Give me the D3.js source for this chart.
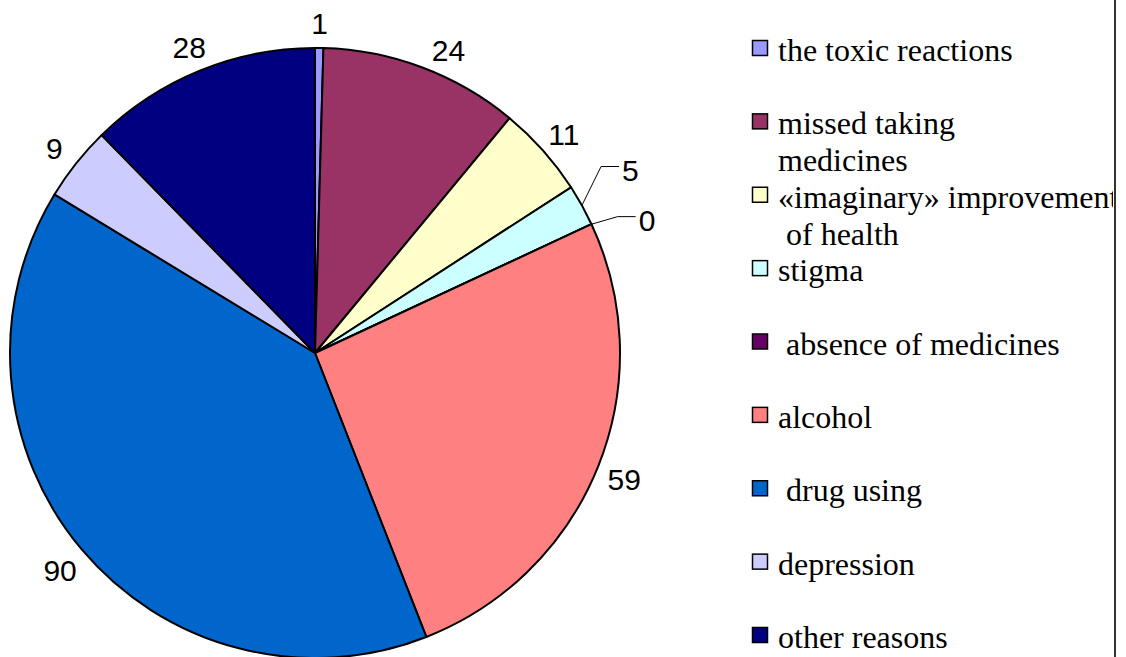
<!DOCTYPE html>
<html>
<head>
<meta charset="utf-8">
<script src="https://cdn.jsdelivr.net/npm/d3@7"></script>
<style>
  body { margin: 0; background: #fff; }
  svg { display: block; }
</style>
</head>
<body>
<div id="chart"></div>
<script>
// data
var categories = ["the toxic reactions", "missed taking\nmedicines", "«imaginary» improvement\n of health",
  "stigma", " absence of medicines", "alcohol", " drug using", "depression", "other reasons"];
var values = [1, 24, 11, 5, 0, 59, 90, 9, 28];
var colors = ["#9999FF", "#993366", "#FFFFCC", "#CCFFFF", "#660066", "#FF8080", "#0066CC", "#CCCCFF", "#000080"];

var width = 1126, height = 657;
var cx = 315, cy = 353, radius = 305;

// slices whose labels are pulled out with a leader line
var leaderCats = ["stigma", " absence of medicines"];

var svg = d3.select("#chart").append("svg")
    .attr("width", width)
    .attr("height", height);

var rows = categories.map(function(c, i) { return {name: c, value: values[i], color: colors[i]}; });

var pie = d3.pie().sort(null).value(function(d) { return d.value; });
var arc = d3.arc().innerRadius(0).outerRadius(radius);
var arcs = pie(rows);

var g = svg.append("g").attr("transform", "translate(" + cx + "," + cy + ")");

g.selectAll("path.slice")
    .data(arcs)
    .enter().append("path")
    .attr("class", "slice")
    .attr("d", arc)
    .attr("fill", function(d) { return d.data.color; })
    .attr("stroke", "#000")
    .attr("stroke-width", 2)
    .attr("stroke-linejoin", "round");

// point at angle a (radians from top, clockwise) and radius r
function pt(a, r) { return [Math.sin(a) * r, -Math.cos(a) * r]; }
var deg = Math.PI / 180;

arcs.forEach(function(d) {
  var mid = (d.startAngle + d.endAngle) / 2;
  var li = leaderCats.indexOf(d.data.name);
  if (li < 0) {
    // the 24 label sits a little clockwise of its slice middle, as in the original
    var p = pt(d.data.value === 24 ? mid + 3 * deg : mid, 333);
    g.append("text")
      .attr("x", p[0]).attr("y", p[1] + 3)
      .attr("text-anchor", "middle")
      .attr("dominant-baseline", "central")
      .attr("font-family", "Liberation Sans, Arial, sans-serif")
      .attr("font-size", 30)
      .text(d.data.value);
  } else {
    var a0 = d.data.value > 0 ? mid : d.startAngle;
    var start = pt(a0, radius);
    var lp = li === 0 ? pt(60 * deg, 365) : pt(68.3 * deg, 358);
    var tx = lp[0] - 9, ty = lp[1];
    g.append("polyline")
      .attr("points", [start, [tx - 21, ty - 4], [tx - 3, ty - 4]].map(function(q) { return q.join(","); }).join(" "))
      .attr("fill", "none")
      .attr("stroke", "#000")
      .attr("stroke-width", 1);
    g.append("text")
      .attr("x", tx).attr("y", ty)
      .attr("dominant-baseline", "central")
      .attr("font-family", "Liberation Sans, Arial, sans-serif")
      .attr("font-size", 30)
      .text(d.data.value);
  }
});

// legend
svg.append("clipPath").attr("id", "legclip")
  .append("rect").attr("x", 0).attr("y", 0).attr("width", 1113).attr("height", height);

var leg = svg.append("g").attr("clip-path", "url(#legclip)");
var legY = d3.scalePoint().domain(d3.range(rows.length)).range([40, 627]);

rows.forEach(function(d, i) {
  var y0 = legY(i);
  leg.append("rect")
    .attr("x", 752.5).attr("y", y0 + 0.5)
    .attr("width", 15).attr("height", 15)
    .attr("fill", d.color)
    .attr("stroke", "#000")
    .attr("stroke-width", 1.5);
  var t = leg.append("text")
    .attr("x", 778).attr("y", y0 + 21)
    .attr("font-family", "'Liberation Serif', 'Times New Roman', serif")
    .attr("font-size", 32)
    .style("white-space", "pre");
  d.name.split("\n").forEach(function(line, k) {
    t.append("tspan")
      .attr("x", 778)
      .attr("dy", k === 0 ? 0 : 37)
      .text(line);
  });
});

// right border line
svg.append("line")
  .attr("x1", 1115).attr("x2", 1115)
  .attr("y1", 0).attr("y2", height)
  .attr("stroke", "#333")
  .attr("stroke-width", 2);
</script>
</body>
</html>
